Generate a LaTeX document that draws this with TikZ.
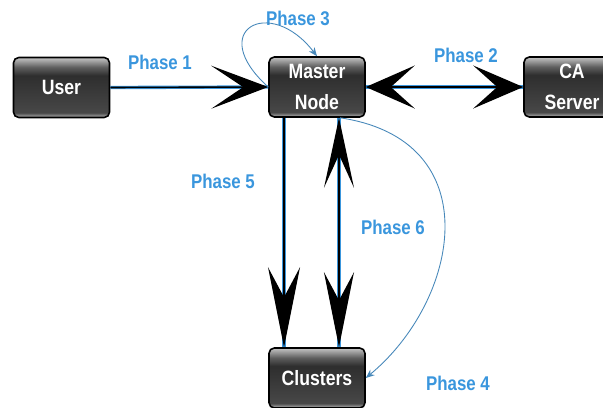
\documentclass[tikz,border=0pt]{standalone}
\usepackage{fontspec}
\setmainfont[FakeStretch=0.85]{Liberation Sans}
\usetikzlibrary{arrows.meta}

\definecolor{phaseblue}{RGB}{58,150,221}
\definecolor{loopblue}{RGB}{70,135,185}
\pgfdeclareverticalshading{boxgloss}{100bp}{color(0bp)=(gray!55); color(25bp)=(gray!55); color(29bp)=(black!72); color(60bp)=(black!82); color(67bp)=(gray!75!black); color(75bp)=(gray!45); color(100bp)=(gray!45)}

\tikzset{
  unit/.style={rectangle, rounded corners=3pt, draw=black, line width=0.9pt, shading=boxgloss,
    minimum width=1.92cm, minimum height=1.2cm, align=center, text=white,
    font=\fontsize{11.8}{17.5}\selectfont\bfseries},
  phase/.style={text=phaseblue, font=\fontsize{11.3}{12}\selectfont\bfseries},
  bigline/.style={draw=black, line width=0.9pt, preaction={draw=phaseblue, line width=1.9pt, arrows=-}},
  loopline/.style={draw=loopblue, line width=0.5pt, -{Stealth[length=5pt, width=4pt]}}
}

\begin{document}
\begin{tikzpicture}[x=0.02cm, y=-0.02cm]
	\useasboundingbox (0, 0) rectangle (603, 407);
	% boxes
	\node [unit] (user) at (61.5, 87.5) {User};
	\node [unit] (master) at (317, 87) {Master\\Node};
	\node [unit] (ca) at (572, 87) {CA\\Server};
	\node [unit] (clusters) at (317, 378) {Clusters};
	% phase labels
	\node [phase] (p1) at (160, 62) {Phase 1};
	\node [phase] (p2) at (466, 55) {Phase 2};
	\node [phase] (p3) at (298, 18) {Phase 3};
	\node [phase] (p4) at (458, 383) {Phase 4};
	\node [phase] (p5) at (223, 181) {Phase 5};
	\node [phase] (p6) at (393, 227) {Phase 6};
	% big black arrows
	\draw [bigline, -{Stealth[length=1.14cm, width=0.86cm, inset=0.64cm]}] (user.east) -- (master.west);
	\draw [bigline, {Stealth[length=0.98cm, width=0.86cm, inset=0.48cm]}-{Stealth[length=1.0cm, width=0.86cm, inset=0.48cm]}] (master.east) -- (ca.west);
	\draw [bigline, -{Stealth[length=1.6cm, width=0.64cm, inset=0.6cm]}] ([xshift=-0.66cm]master.south) -- ([xshift=-0.66cm]clusters.north);
	\draw [bigline, {Stealth[length=1.4cm, width=0.6cm, inset=0.66cm]}-{Stealth[length=1.5cm, width=0.6cm, inset=0.56cm]}] ([xshift=0.44cm]master.south) -- ([xshift=0.44cm]clusters.north);
	% thin curved arrows
	\draw [loopline] (master.west) .. controls (205, 30) and (270, -5) .. (master.north);
	\draw [loopline] ([xshift=0.46cm]master.south) .. controls (490, 140) and (460, 300) .. (clusters.east);
\end{tikzpicture}
\end{document}
